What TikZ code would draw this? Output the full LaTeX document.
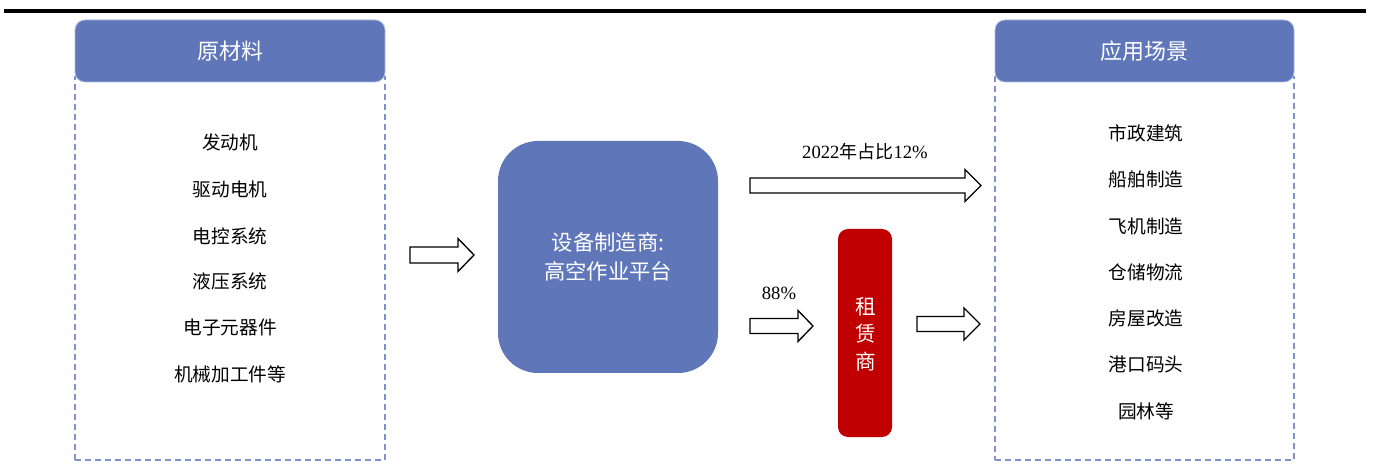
\documentclass[tikz,border=0pt]{standalone}
\usepackage{fontspec}
\setmainfont{Liberation Serif}
\newfontfamily\cjk{Noto Sans CJK SC}
\definecolor{hdrblue}{RGB}{95,119,185}
\definecolor{hdredge}{RGB}{170,184,222}
\definecolor{dashblue}{RGB}{128,146,204}
\definecolor{leasered}{RGB}{192,0,0}
\tikzset{
  hdr/.style={fill=hdrblue, draw=hdredge, line width=0.6pt, rounded corners=7.5pt,
    minimum height=46.5pt, inner sep=0pt, text=white, font=\cjk\fontsize{16.5}{18}\selectfont},
  dbox/.style={draw=dashblue, line width=1.1pt, dash pattern=on 4.5pt off 3pt,
    minimum height=287.25pt, inner sep=0pt},
  item/.style={font=\cjk\fontsize{14}{16}\selectfont, inner sep=0pt},
  mfr/.style={fill=hdrblue, draw=none, rounded corners=30pt, minimum width=165pt,
    minimum height=174pt, text=white, align=center,
    font=\cjk\fontsize{16}{21.75}\selectfont},
  lessor/.style={fill=leasered, draw=none, rounded corners=7.5pt, minimum width=40.5pt,
    minimum height=156pt, inner sep=0pt},
  lchar/.style={text=white, inner sep=0pt, font=\cjk\fontsize{15.5}{17}\selectfont},
  lbl/.style={font=\fontsize{14}{16}\selectfont, inner sep=0pt},
  barrow/.style={draw=black, fill=white, line width=1pt, line join=miter},
}
\newcommand{\blockarr}[6]{% x1, x2(tip), xh(head base), yc, half body, half head
  \draw[barrow] (#1,{#4-#5}) -- (#3,{#4-#5}) -- (#3,{#4-#6}) -- (#2,#4)
    -- (#3,{#4+#6}) -- (#3,{#4+#5}) -- (#1,{#4+#5}) -- cycle;}
\begin{document}
\begin{tikzpicture}[x=0.75pt,y=-0.75pt]
\useasboundingbox (0,0) rectangle (1374,466);
% top rule
\draw[line width=2.4pt] (4,11) -- (1366,11);
% left column
\node[dbox, minimum width=232.5pt] (rawbox) at (230,268.5) {};
\node[hdr, minimum width=232.5pt] (rawhdr) at (230,51) {原材料};
\node[item] (r1) at (230,142) {发动机};
\node[item] (r2) at (230,189) {驱动电机};
\node[item] (r3) at (230,236) {电控系统};
\node[item] (r4) at (230,281) {液压系统};
\node[item] (r5) at (230,327) {电子元器件};
\node[item] (r6) at (230,374) {机械加工件等};
% right column
\node[dbox, minimum width=224.25pt] (appbox) at (1144.5,268.5) {};
\node[hdr, minimum width=224.25pt] (apphdr) at (1144.5,51) {应用场景};
\node[item] (a1) at (1146,133) {市政建筑};
\node[item] (a2) at (1146,179) {船舶制造};
\node[item] (a3) at (1146,226) {飞机制造};
\node[item] (a4) at (1146,272) {仓储物流};
\node[item] (a5) at (1146,318) {房屋改造};
\node[item] (a6) at (1146,364) {港口码头};
\node[item] (a7) at (1146,411) {园林等};
% manufacturer
\node[mfr] (mfr) at (608,257) {设备制造商:\\高空作业平台};
% lessor
\node[lessor] (lessor) at (865,333) {};
\node[lchar] (l1) at (866,307) {租};
\node[lchar] (l2) at (866,334) {赁};
\node[lchar] (l3) at (866,362) {商};
% labels
\node[lbl] (p12) at (865,152) {2022{\cjk\fontsize{13.5}{16}\selectfont 年占比}12\%};
\node[lbl] (p88) at (779,293) {88\%};
% block arrows
\blockarr{410}{474}{458}{255}{8}{16.5}
\blockarr{750}{981}{965}{185.5}{7.5}{16}
\blockarr{750}{813}{798}{326}{7.5}{15.5}
\blockarr{917}{980}{964}{324}{7.5}{16}
\end{tikzpicture}
\end{document}
